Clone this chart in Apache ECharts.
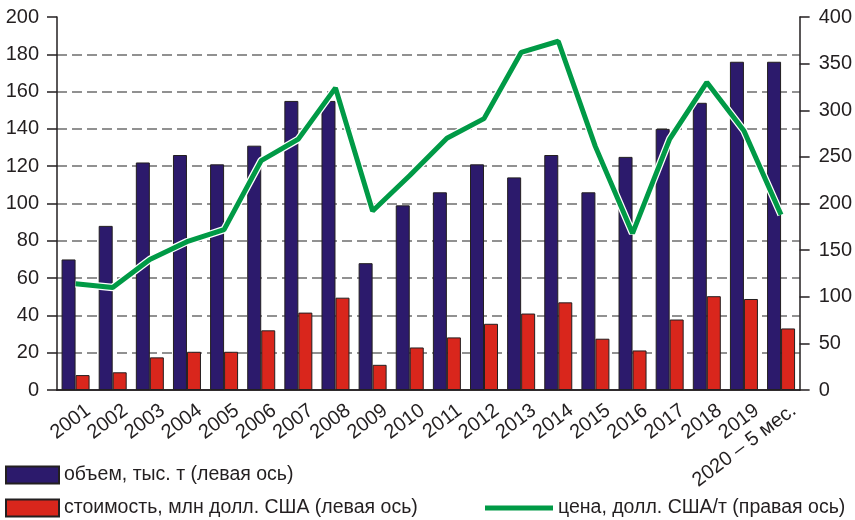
<!DOCTYPE html>
<html>
<head>
<meta charset="utf-8">
<script src="https://cdn.jsdelivr.net/npm/echarts@6/dist/echarts.min.js"></script>
<style>
    html, body { margin: 0; padding: 0; background: #fff; }
    #chart { width: 855px; height: 520px; }
</style>
</head>
<body>
<div id="chart"></div>
<script>
var years = ['2001', '2002', '2003', '2004', '2005', '2006', '2007', '2008', '2009', '2010',
    '2011', '2012', '2013', '2014', '2015', '2016', '2017', '2018', '2019', '2020 – 5 мес.'];
// объем, тыс. т
var volume = [70, 88, 122, 126, 121, 131, 155, 155, 68, 99, 106, 121, 114, 126, 106, 125, 140, 154, 176, 176];
// стоимость, млн долл. США
var cost = [8, 9.5, 17.5, 20.5, 20.5, 32, 41.5, 49.5, 13.5, 22.8, 28.2, 35.5, 41, 47, 27.5, 21.2, 37.8, 50.3, 48.8, 33];
// цена, долл. США/т
var price = [114, 110, 140, 159, 172, 246, 269, 324, 192, 230, 270, 291, 362, 374, 261, 168, 269, 330, 278, 188];

var names = ['объем, тыс. т (левая ось)', 'стоимость, млн долл. США (левая ось)', 'цена, долл. США/т (правая ось)'];

var textColor = '#231f20';
var font = '"Liberation Sans", Arial, sans-serif';

var chart = echarts.init(document.getElementById('chart'));
var option = {
    animation: false,
    textStyle: { fontFamily: font, color: textColor },
    grid: { left: 57, right: 54, top: 17, bottom: 130 },
    legend: [
        {
            left: 5, top: 465, padding: 0,
            itemWidth: 53, itemHeight: 17, itemGap: 0, icon: 'rect',
            textStyle: { fontSize: 19.5, color: textColor, fontFamily: font },
            data: [names[0]]
        },
        {
            left: 5, top: 498, padding: 0,
            itemWidth: 53, itemHeight: 17, itemGap: 0, icon: 'rect',
            textStyle: { fontSize: 19.5, color: textColor, fontFamily: font },
            data: [names[1]]
        },
        {
            left: 485, top: 498, padding: 0,
            itemWidth: 68, itemHeight: 5, icon: 'rect',
            textStyle: { fontSize: 19.5, color: textColor, fontFamily: font },
            data: [names[2]]
        }
    ],
    xAxis: [
        {
            type: 'category',
            data: years,
            axisLine: { lineStyle: { color: textColor, width: 1.5 } },
            axisTick: { length: 10, lineStyle: { color: textColor, width: 1.5 } },
            axisLabel: {
                interval: 0, rotate: 37, margin: 28,
                padding: [0, -16, 0, 0],
                fontSize: 20, color: textColor, fontFamily: font
            }
        },
        {
            type: 'category',
            position: 'top',
            data: years,
            axisLine: { show: true, lineStyle: { color: textColor, width: 1.5 } },
            axisTick: { show: false },
            axisLabel: { show: false }
        }
    ],
    yAxis: [
        {
            type: 'value',
            min: 0, max: 200, interval: 20,
            axisLine: { show: true, lineStyle: { color: textColor, width: 1.5 } },
            axisTick: { show: true, length: 10, lineStyle: { color: textColor, width: 1.5 } },
            axisLabel: { fontSize: 20, margin: 18, color: textColor, fontFamily: font },
            splitLine: {
                show: true, showMinLine: false, showMaxLine: false,
                lineStyle: { color: '#6d6d6d', width: 1.5, type: [10, 5] }
            }
        },
        {
            type: 'value',
            min: 0, max: 400, interval: 50,
            axisLine: { show: true, lineStyle: { color: textColor, width: 1.5 } },
            axisTick: { show: true, length: 10, lineStyle: { color: textColor, width: 1.5 } },
            axisLabel: { fontSize: 20, margin: 19, color: textColor, fontFamily: font },
            splitLine: { show: false }
        }
    ],
    series: [
        {
            name: names[0],
            type: 'bar',
            data: volume,
            barWidth: 14,
            barGap: '0%',
            itemStyle: { color: '#2c1a6c', borderColor: '#231f20', borderWidth: 1 }
        },
        {
            name: names[1],
            type: 'bar',
            data: cost,
            barWidth: 14,
            itemStyle: { color: '#d9261c', borderColor: '#231f20', borderWidth: 1 }
        },
        {
            // white outline under the price line
            name: 'outline',
            type: 'line',
            yAxisIndex: 1,
            data: price,
            symbol: 'none',
            silent: true,
            lineStyle: { color: '#ffffff', width: 7.5 },
            z: 3
        },
        {
            name: names[2],
            type: 'line',
            yAxisIndex: 1,
            data: price,
            symbol: 'none',
            itemStyle: { color: '#009a46' },
            lineStyle: { color: '#009a46', width: 5 },
            z: 4
        }
    ]
};
chart.setOption(option);
</script>
</body>
</html>
